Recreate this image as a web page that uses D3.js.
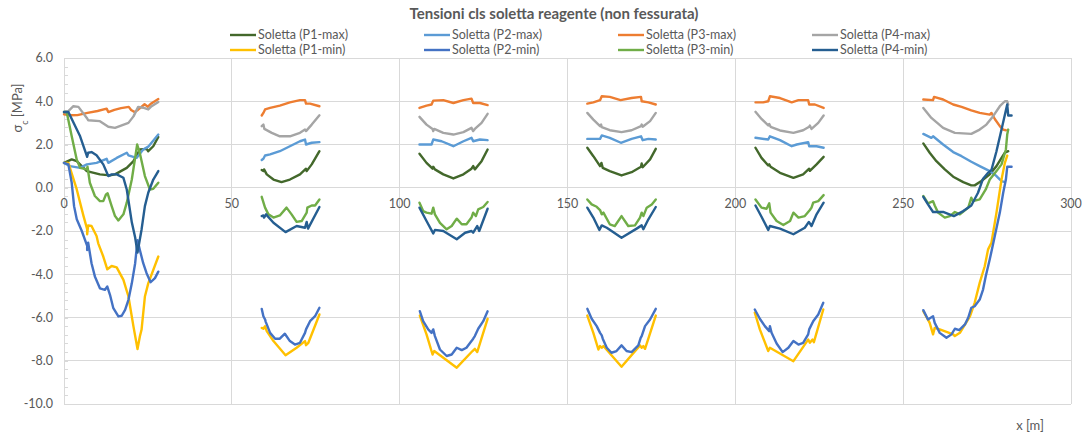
<!DOCTYPE html>
<html lang="it">
<head>
<meta charset="UTF-8">
<title>Tensioni cls soletta reagente</title>
<script src="https://d3js.org/d3.v7.min.js"></script>
<style>
  body { margin: 0; background: #fff; font-family: Lato, "Open Sans", sans-serif; }
  svg text { fill: #595959; }
</style>
</head>
<body>
<div id="chart"></div>
<script>
// each series: one array of [x, sigma] points per span (gaps between spans)
var p1Max = [
  [[0,1.15],[2.3,1.31],[3.8,1.23],[6.8,0.77],[10.7,0.62],[13.7,0.57],[15.2,0.62],[18.7,0.92],[20.7,1.23],[22.6,1.77],[24.6,1.8],[25.1,1.69],[26.6,1.92],[28.1,2.35]],
  [[58.9,0.82],[59.4,0.77],[59.6,0.85],[60.4,0.62],[62.4,0.38],[64.8,0.26],[67.3,0.38],[70.3,0.62],[72.1,0.88],[72.3,0.77],[73.8,1.08],[76.1,1.69]],
  [[105.9,1.57],[108,1.15],[109.8,0.88],[110,0.97],[110.5,0.85],[113,0.62],[116,0.43],[119,0.62],[121.4,0.88],[121.9,1.0],[122.4,0.85],[124.4,1.23],[126.2,1.77]],
  [[155.9,1.85],[157.7,1.46],[159.7,1.0],[160.1,1.15],[160.5,0.92],[162.6,0.77],[166.1,0.57],[169.1,0.72],[171.9,0.97],[172.1,1.12],[172.4,0.95],[174.6,1.31],[176.3,1.8]],
  [[206,1.85],[207.8,1.38],[209.8,1.03],[210.1,1.08],[210.5,0.97],[213.3,0.69],[217.3,0.46],[220.2,0.62],[222,0.88],[222.2,0.78],[224.2,1.08],[226.3,1.43]],
  [[256,2.05],[257.9,1.62],[259.9,1.23],[262.4,0.85],[264.9,0.51],[267.9,0.26],[270.3,0.11],[271.3,0.11],[273.3,0.31],[275.8,0.62],[277.8,1.0],[279.3,1.38],[280.3,1.62],[281.3,1.69]]
];
var p2Max = [
  [[0,1.15],[1.8,1.0],[4.8,0.92],[6.8,1.08],[9.7,1.15],[12.7,1.34],[13.2,1.15],[15.7,1.38],[18.7,1.62],[19.2,1.5],[21.6,1.38],[23.6,1.77],[25.1,1.9],[28.1,2.46]],
  [[58.9,1.28],[59.4,1.34],[59.9,1.49],[61.4,1.54],[64.3,1.69],[67.3,1.92],[70.3,2.15],[71.8,2.23],[72.1,2.0],[73.8,2.08],[76.1,2.11]],
  [[105.9,2.0],[109.5,2.0],[110,2.23],[112.5,2.15],[116,1.92],[119,2.15],[121.4,2.31],[121.9,2.15],[123.9,2.23],[126.2,2.2]],
  [[155.9,2.26],[159.7,2.26],[160.2,2.42],[162.6,2.31],[165.9,2.08],[169.1,2.26],[171.9,2.38],[172.4,2.2],[174.1,2.26],[176.3,2.23]],
  [[206,2.31],[209.8,2.23],[210.3,2.38],[213.3,2.2],[216.8,1.92],[218.3,2.0],[221.7,2.11],[222,1.92],[224.2,1.92],[226.3,1.85]],
  [[256,2.49],[258.4,2.31],[258.9,2.38],[261.9,2.0],[264.9,1.65],[267.4,1.46],[270.3,1.2],[272.8,1.0],[275.8,0.77],[277.8,0.54],[279.3,0.31],[280.3,0.26]]
];
var p3Max = [
  [[0,3.4],[2,3.35],[4,3.36],[7,3.46],[10,3.55],[12.7,3.66],[13.2,3.5],[15,3.6],[17,3.68],[19.3,3.74],[20,3.6],[21,3.5],[22,3.6],[24,3.86],[25,3.75],[26,3.9],[28.1,4.1]],
  [[58.9,3.34],[59.4,3.46],[59.9,3.62],[61.4,3.69],[64.3,3.8],[67.3,3.95],[70.3,4.05],[71.8,4.05],[72.1,3.89],[73.3,3.89],[76.1,3.77]],
  [[105.9,3.69],[108,3.8],[109.5,3.85],[110,4.03],[113,4.05],[116,3.92],[119,4.05],[121.4,4.12],[121.9,3.92],[123.9,3.92],[126.2,3.82]],
  [[155.9,3.89],[157.7,3.95],[159.7,4.05],[160.2,4.23],[162.6,4.2],[165.8,4.05],[169.1,4.15],[171.9,4.2],[172.1,4.0],[174.1,3.95],[176.3,3.85]],
  [[206,3.95],[208.3,3.95],[209.8,4.0],[210.3,4.23],[213.3,4.15],[216.8,3.95],[218.8,4.05],[221.7,4.05],[222,3.85],[223.7,3.85],[226.3,3.69]],
  [[256,4.08],[258.9,4.05],[259.2,4.2],[261.9,4.08],[264.9,3.85],[267.4,3.74],[270.3,3.58],[272.8,3.46],[275.8,3.38],[276.3,3.46],[277.3,3.18],[278.8,2.85],[279.8,2.69],[280.6,2.66]]
];
var p4Max = [
  [[0,3.5],[1,3.5],[2.8,3.77],[4.3,3.74],[6.8,3.23],[7.2,3.12],[10.7,3.08],[13.2,2.82],[15.2,2.77],[19.2,3.0],[20.7,3.3],[22.1,3.74],[23.6,3.7],[25.1,3.62],[26.1,3.77],[28.1,3.97]],
  [[58.9,2.85],[59.4,2.92],[59.7,2.72],[61.9,2.54],[64.3,2.38],[67.3,2.38],[70.3,2.54],[71.8,2.69],[72.1,2.62],[73.8,2.92],[76.1,3.35]],
  [[105.9,3.28],[108,2.92],[109.8,2.72],[110,2.62],[110.3,2.72],[113,2.54],[116,2.46],[119,2.57],[121.4,2.77],[121.9,2.62],[122.4,2.72],[124.4,3.0],[126.2,3.42]],
  [[155.9,3.46],[157.7,3.15],[159.7,2.85],[160,2.92],[160.2,2.8],[162.6,2.66],[166.1,2.57],[169.1,2.66],[171.9,2.85],[172.1,2.92],[172.4,2.82],[174.6,3.08],[176.3,3.46]],
  [[206,3.51],[207.8,3.18],[209.8,2.88],[210.1,2.95],[210.5,2.82],[213.3,2.65],[217.3,2.54],[220.2,2.66],[222,2.82],[222.2,2.88],[222.7,2.72],[224.7,3.0],[226.3,3.34]],
  [[256,3.69],[258.4,3.23],[261.9,2.77],[265.4,2.54],[270.3,2.49],[272.8,2.69],[274.8,2.92],[276.8,3.31],[278.8,3.77],[280.3,4.0],[281,4.0],[281.3,3.85]]
];
var p1Min = [
  [[0,1.15],[1.3,1.15],[3.8,-0.08],[5.8,-1.3],[6.9,-1.92],[6.9,-2.15],[7.2,-1.74],[8.2,-1.77],[9.7,-2.23],[10.2,-2.57],[11.7,-3.18],[12.9,-3.77],[14.2,-3.62],[15.7,-3.68],[17.7,-4.26],[19.2,-5.03],[20.7,-6.42],[21.9,-7.46],[22.6,-6.88],[23.1,-6.57],[24.1,-5.03],[25.1,-4.42],[28.1,-3.18]],
  [[58.9,-6.48],[59.4,-6.52],[59.9,-6.4],[60.4,-6.63],[62.4,-7.09],[66,-7.75],[69.3,-7.4],[71.8,-7.09],[72.1,-7.28],[72.8,-7.17],[76.1,-5.86]],
  [[106,-5.91],[108,-6.78],[109.8,-7.71],[110.3,-7.55],[117,-8.32],[121.7,-7.55],[122.4,-7.45],[123.1,-7.6],[126.2,-6.06]],
  [[155.9,-5.91],[157.7,-6.71],[159.2,-7.48],[159.7,-7.32],[160.2,-7.4],[160.7,-7.32],[166.1,-8.28],[171.6,-7.29],[172.1,-7.4],[172.6,-7.32],[173.1,-7.45],[176.3,-5.91]],
  [[205.8,-5.78],[207.3,-6.55],[209.8,-7.55],[210.3,-7.4],[217.3,-8.02],[221.7,-7.02],[222.2,-7.17],[223,-7.02],[223.4,-7.14],[226.2,-5.63]],
  [[256,-5.71],[257.9,-6.25],[258.9,-6.78],[259.4,-6.48],[260.9,-6.55],[264.9,-6.78],[265.4,-6.86],[266.9,-6.71],[269.9,-5.95],[271.3,-5.32],[272.8,-4.4],[274.3,-3.63],[275.3,-2.85],[276.3,-2.54],[277.8,-1.15],[279.3,0.38],[280.3,1.15],[281,1.49]]
];
var p2Min = [
  [[0,1.15],[1.3,1.08],[2.3,0.23],[3,-0.85],[3.8,-1.46],[5.3,-2.0],[6.9,-2.69],[6.9,-2.88],[7.2,-2.54],[8.2,-3.49],[9.2,-4.1],[10.7,-4.65],[12.2,-4.72],[12.9,-4.57],[13.7,-4.95],[14.7,-5.57],[16.2,-5.95],[17.2,-5.92],[18.2,-5.65],[19.2,-5.18],[20.2,-4.42],[21.2,-3.49],[21.9,-2.42],[22.6,-2.88],[23.6,-3.49],[24.6,-3.95],[25.8,-4.37],[27.1,-4.18],[28.1,-3.88]],
  [[58.9,-5.6],[59.4,-5.94],[59.9,-6.09],[60.1,-6.2],[60.4,-6.32],[61.4,-6.71],[62.9,-6.98],[64.3,-6.98],[65.8,-6.75],[67.3,-7.09],[68.8,-7.25],[70.3,-7.17],[71.8,-6.71],[72.1,-6.55],[73.3,-6.17],[74.8,-5.94],[76.1,-5.55]],
  [[106,-5.71],[107,-6.17],[108.5,-6.55],[109.5,-6.71],[110,-6.55],[110.5,-6.86],[112,-7.48],[114,-7.78],[115.5,-7.71],[117,-7.4],[118.5,-7.51],[119.9,-7.4],[121.4,-7.09],[121.9,-6.98],[122.4,-6.86],[123.4,-6.52],[124.9,-6.17],[126.2,-5.71]],
  [[155.9,-5.6],[157.2,-6.06],[158.7,-6.4],[159.7,-6.71],[160.2,-6.83],[160.5,-6.98],[161.7,-7.4],[163.1,-7.63],[164.6,-7.55],[166.1,-7.29],[167.6,-7.55],[169.1,-7.6],[171.1,-7.29],[171.8,-6.94],[172.1,-6.86],[173.1,-6.4],[174.6,-6.09],[176.3,-5.6]],
  [[205.8,-5.63],[207.3,-6.06],[208.8,-6.4],[210.1,-6.63],[210.3,-6.4],[210.8,-6.71],[212.3,-7.2],[214.1,-7.6],[215.8,-7.4],[217.3,-7.09],[218.8,-7.25],[220.2,-7.17],[221.7,-6.78],[222,-6.55],[223.2,-6.17],[224.7,-5.86],[226.2,-5.32]],
  [[256,-5.66],[257.4,-6.09],[258.9,-5.94],[259.4,-6.25],[260.9,-6.71],[262.9,-6.94],[264.4,-6.78],[265.4,-6.52],[266.7,-6.58],[268.4,-6.32],[269.4,-6.0],[270.3,-5.55],[271.3,-5.48],[272.8,-5.17],[273.8,-4.71],[274.6,-4.09],[275.8,-3.31],[277.3,-2.23],[278.8,-1.15],[279.8,-0.23],[280.6,0.38],[281,0.97],[282.3,0.97]]
];
var p3Min = [
  [[0,3.5],[0.8,3.5],[2.3,2.38],[3.8,1.3],[4.8,0.92],[6.8,0.85],[7,0.97],[7.7,0.23],[9.2,-0.38],[10.7,-0.62],[11.7,-0.62],[12.5,-0.31],[13,-0.26],[14.2,-0.85],[15.2,-1.31],[16.2,-1.51],[17.7,-1.23],[18.7,-0.69],[20.2,0.38],[21.8,2.0],[22.6,1.6],[24.1,0.54],[25.6,-0.08],[26.6,-0.05],[28.1,0.23]],
  [[58.9,-0.42],[59.9,-0.92],[60.9,-1.23],[62.4,-1.38],[64.3,-1.28],[66.3,-0.92],[67.8,-1.23],[69.3,-1.58],[70.8,-1.54],[72.3,-1.15],[72.5,-0.92],[73.8,-0.82],[74.8,-0.82],[76.1,-0.54]],
  [[105.9,-0.69],[107,-1.08],[108,-1.15],[109.5,-1.2],[110,-0.92],[110.5,-1.23],[112,-1.62],[114,-1.92],[115.5,-1.77],[117,-1.43],[118.5,-1.69],[119.9,-1.69],[121.4,-1.38],[121.9,-1.15],[122.7,-1.31],[123.4,-1.0],[124.9,-0.89],[126.2,-0.66]],
  [[155.9,-0.54],[157.2,-0.77],[158.7,-0.88],[159.7,-1.03],[160.2,-1.23],[160.7,-1.15],[162.6,-1.69],[164.1,-1.77],[166.1,-1.31],[168.1,-1.77],[170.1,-1.74],[171.6,-1.38],[172.1,-1.15],[172.6,-1.31],[173.6,-0.92],[175.1,-0.77],[176.3,-0.54]],
  [[206,-0.54],[207.8,-0.92],[209.3,-0.97],[210.1,-0.72],[210.5,-1.15],[212.3,-1.54],[214.3,-1.72],[216.3,-1.54],[217.3,-1.15],[218.8,-1.38],[220.7,-1.31],[222.2,-1.03],[222.7,-0.92],[223.2,-0.69],[224.7,-0.62],[226.3,-0.34]],
  [[256,-0.38],[257.4,-0.72],[258.9,-0.62],[259.4,-0.82],[260.4,-1.15],[262.4,-1.38],[263.9,-1.31],[265.4,-1.12],[266.9,-1.23],[269.4,-0.92],[270.3,-0.46],[270.8,-0.62],[272.8,-0.54],[274.6,-0.08],[275.8,0.38],[277.8,0.77],[279.3,1.08],[280.6,1.77],[281,2.46],[281.3,2.69]]
];
var p4Min = [
  [[0,3.5],[1.3,3.5],[4.8,2.38],[6.9,1.43],[7.2,1.62],[8.2,1.65],[9.7,1.5],[11.7,1.08],[13.2,0.54],[14.2,0.62],[15.7,0.62],[17.7,0.46],[18.7,-0.08],[20.2,-1.6],[21.2,-2.3],[21.9,-3.0],[23.1,-1.94],[24.1,-0.85],[25.1,-0.23],[26.6,0.38],[28.1,0.77]],
  [[58.9,-1.31],[59.4,-1.28],[59.6,-1.38],[60.2,-1.23],[62.4,-1.62],[66,-2.05],[69.3,-1.77],[71.8,-1.85],[72.3,-1.58],[72.7,-1.89],[76.1,-0.89]],
  [[105.9,-0.92],[108,-1.54],[110,-2.11],[110.5,-1.95],[113,-2.0],[117,-2.38],[119.5,-2.08],[121.4,-2.0],[121.9,-2.08],[123.1,-1.77],[123.7,-2.0],[126.2,-0.97]],
  [[155.9,-0.92],[157.7,-1.38],[159.5,-1.95],[160.2,-1.74],[161.7,-1.85],[166.1,-2.31],[170.6,-1.89],[172.1,-1.74],[172.6,-1.92],[174.1,-1.46],[176.3,-0.89]],
  [[206,-0.82],[207.8,-1.34],[209.8,-1.95],[210.3,-1.77],[213.3,-1.89],[217.3,-2.15],[220.7,-1.85],[221.9,-1.58],[222.7,-1.77],[224.2,-1.23],[226.3,-0.69]],
  [[256,-0.42],[257.4,-0.77],[258.9,-1.12],[261.9,-1.12],[265.1,-1.31],[267.9,-1.08],[270.3,-0.82],[272.3,-0.23],[273.8,0.42],[275.3,0.69],[276.3,0.82],[277.8,1.69],[279.3,2.69],[281,3.85],[281.3,3.34],[282.3,3.34]]
];

var seriesNames = ["Soletta (P1-max)", "Soletta (P2-max)", "Soletta (P3-max)", "Soletta (P4-max)",
                   "Soletta (P1-min)", "Soletta (P2-min)", "Soletta (P3-min)", "Soletta (P4-min)"];
var seriesData = [p1Max, p2Max, p3Max, p4Max, p1Min, p2Min, p3Min, p4Min];
var colors = ["#43682b", "#5b9bd5", "#ed7d31", "#a5a5a5", "#ffc000", "#4472c4", "#70ad47", "#255e91"];

var xTicks = [0, 50, 100, 150, 200, 250, 300];
var yTicks = [6, 4, 2, 0, -2, -4, -6, -8, -10];
var yTickLabels = ["6.0", "4.0", "2.0", "0.0", "-2.0", "-4.0", "-6.0", "-8.0", "-10.0"];

var W = 1083, H = 435;
var plot = {left: 64, right: 1071, top: 58, bottom: 404};

var svg = d3.select("#chart").append("svg")
    .attr("width", W).attr("height", H)
    .style("font-family", "Lato, 'Open Sans', sans-serif");

var x = d3.scaleLinear().domain([0, 300]).range([plot.left, plot.right]);
var y = d3.scaleLinear().domain([-10, 6]).range([plot.bottom, plot.top]);

// gridlines
svg.append("g").selectAll("line").data(yTicks).enter().append("line")
    .attr("x1", plot.left).attr("x2", plot.right)
    .attr("y1", function(d) { return y(d); }).attr("y2", function(d) { return y(d); })
    .attr("stroke", "#d9d9d9").attr("stroke-width", 1).attr("shape-rendering", "crispEdges");
svg.append("g").selectAll("line").data(xTicks).enter().append("line")
    .attr("x1", function(d) { return x(d); }).attr("x2", function(d) { return x(d); })
    .attr("y1", plot.top).attr("y2", plot.bottom)
    .attr("stroke", "#d9d9d9").attr("stroke-width", 1).attr("shape-rendering", "crispEdges");

// minor ticks on y axis
var minor = d3.range(-10, 6.001, 0.4);
svg.append("g").selectAll("line").data(minor).enter().append("line")
    .attr("x1", plot.left).attr("x2", plot.left + 4)
    .attr("y1", function(d) { return Math.round(y(d)) + 0.5; }).attr("y2", function(d) { return Math.round(y(d)) + 0.5; })
    .attr("stroke", "#d9d9d9").attr("stroke-width", 1);

// y tick labels
svg.append("g").selectAll("text").data(yTicks).enter().append("text")
    .attr("x", plot.left - 11).attr("y", function(d) { return y(d); })
    .attr("dy", "0.35em").attr("text-anchor", "end")
    .style("font-size", "12.5px")
    .text(function(d, i) { return yTickLabels[i]; });

// x tick labels (axis crosses at 0)
svg.append("g").selectAll("text").data(xTicks).enter().append("text")
    .attr("x", function(d) { return x(d); }).attr("y", y(0) + 20)
    .attr("text-anchor", "middle")
    .style("font-size", "12.5px")
    .text(function(d) { return d; });

// axis titles
var yt = svg.append("text")
    .attr("transform", "translate(22,108) rotate(-90)")
    .attr("text-anchor", "middle")
    .style("font-size", "13px");
yt.append("tspan").text("σ");
yt.append("tspan").attr("baseline-shift", "sub").style("font-size", "9px").text("c");
yt.append("tspan").text(" [MPa]");

svg.append("text")
    .attr("x", 1030).attr("y", 430)
    .attr("text-anchor", "middle")
    .style("font-size", "13px")
    .text("x [m]");

// title
svg.append("text")
    .attr("x", 554).attr("y", 19)
    .attr("text-anchor", "middle")
    .style("font-size", "15px").style("font-weight", "bold")
    .text("Tensioni cls soletta reagente (non fessurata)");

// lines
var line = d3.line()
    .x(function(d) { return x(d[0]); })
    .y(function(d) { return y(d[1]); });

seriesData.forEach(function(spans, i) {
    svg.append("g").selectAll("path").data(spans).enter().append("path")
        .attr("d", line)
        .attr("fill", "none")
        .attr("stroke", colors[i])
        .attr("stroke-width", 2.4)
        .attr("stroke-linejoin", "round")
        .attr("stroke-linecap", "round");
});

// legend, 4 columns x 2 rows
var legCols = [230, 424, 618, 812];
var legRows = [35, 50];
var leg = svg.append("g").selectAll("g").data(seriesNames).enter().append("g")
    .attr("transform", function(d, i) {
        return "translate(" + legCols[i % 4] + "," + legRows[Math.floor(i / 4)] + ")";
    });
leg.append("line")
    .attr("x1", 0).attr("x2", 26).attr("y1", 0).attr("y2", 0)
    .attr("stroke", function(d, i) { return colors[i]; })
    .attr("stroke-width", 2.4);
leg.append("text")
    .attr("x", 28).attr("dy", "0.35em")
    .style("font-size", "12.5px")
    .text(function(d) { return d; });
</script>
</body>
</html>
